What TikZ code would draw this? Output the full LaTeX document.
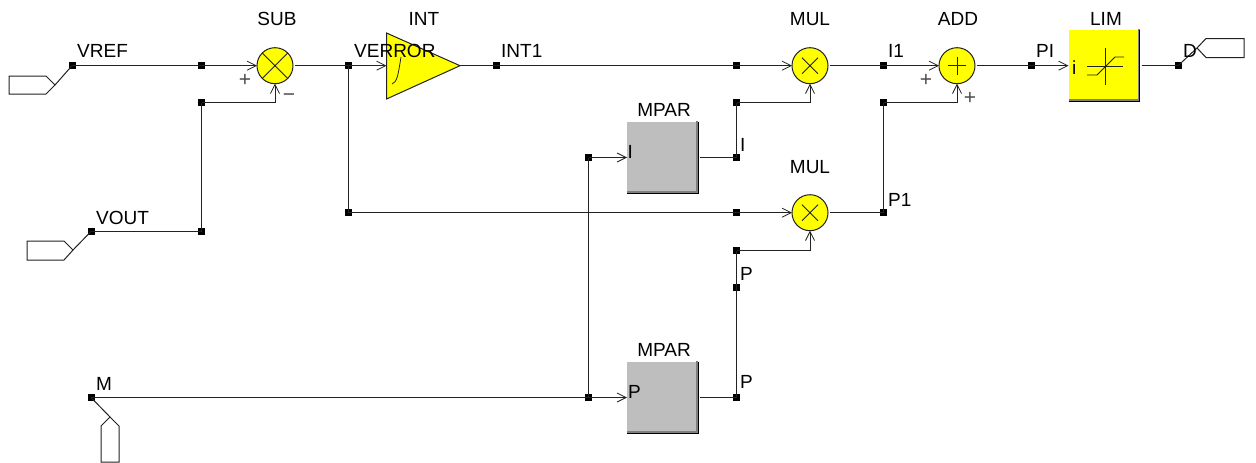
\documentclass[tikz,border=0pt]{standalone}
\usepackage{fontspec}
\setmainfont{Liberation Sans}
\usetikzlibrary{arrows.meta}
\definecolor{wire}{HTML}{222222}
\definecolor{blockyellow}{HTML}{FFFF00}
\definecolor{blockgray}{HTML}{BEBEBE}
\definecolor{edgegray}{HTML}{7F7F7F}
\tikzset{
  x=1pt,y=-1pt,
  wireline/.style={draw=wire,line width=1pt},
  feed/.style={wireline,-{Straight Barb[length=9pt,width=9pt,line width=0.8pt]}},
  junction/.style={fill=black,draw=none,minimum size=7pt,inner sep=0pt,outer sep=0pt,rectangle},
  sumblock/.style={circle,draw=wire,line width=1pt,fill=blockyellow,minimum size=36pt,inner sep=0pt,outer sep=0pt},
  boxblock/.style={rectangle,draw=none,minimum size=71pt,inner sep=0pt,outer sep=0pt},
  portshape/.style={draw=wire,line width=1pt,fill=white,line join=miter},
  lbl/.style={font=\fontsize{19}{21}\selectfont,text=black,inner sep=0pt,anchor=base west},
  title/.style={font=\fontsize{19}{21}\selectfont,text=black,inner sep=0pt,anchor=base},
  sign/.style={font=\fontsize{21}{22}\selectfont,text=black!70,inner sep=0pt,anchor=center},
  glyph/.style={draw=wire,line width=0.8pt},
}
\newcommand{\bevel}[1]{%
  \draw[edgegray,line width=2pt] ([xshift=-1pt,yshift=1pt]#1.north east) -- ([xshift=-1pt]#1.south east);
  \draw[edgegray,line width=2pt] ([yshift=1pt]#1.south west) -- ([yshift=1pt]#1.south east);
  \draw[black,line width=1pt] (#1.south west) -- (#1.south east) -- (#1.north east);
}
\begin{document}
\begin{tikzpicture}
\useasboundingbox (0,0) rectangle (1256,463);
% blocks
\node[sumblock] (sub) at (275,65.7) {};
\node[sumblock] (mula) at (810,65.7) {};
\node[sumblock] (mulb) at (810,212.7) {};
\node[sumblock] (add) at (957,65.7) {};
\draw[glyph] (sub.45) -- (sub.225) (sub.135) -- (sub.315);
\draw[glyph] (802,57.7) -- (818,73.7) (802,73.7) -- (818,57.7);
\draw[glyph] (802,204.7) -- (818,220.7) (802,220.7) -- (818,204.7);
\draw[glyph] (948,65.7) -- (966,65.7) (957,56.7) -- (957,74.7);
\coordinate (intin) at (386.5,65.7);
\coordinate (intout) at (460,65.7);
\draw[wire,line width=1pt,fill=blockyellow,line join=miter] (386.5,33) -- (intout) -- (386.5,99) -- cycle;
\draw[glyph] (392,84) .. controls (397,82) and (398,76) .. (401,57);
\node[boxblock,fill=blockgray] (mpari) at (662.5,157.5) {};
\node[boxblock,fill=blockgray] (mparp) at (662.5,397.5) {};
\node[boxblock,fill=blockyellow] (lim) at (1104,65.7) {};
\bevel{mpari}
\bevel{mparp}
\bevel{lim}
\draw[glyph] (1105,48) -- (1105,85) (1087,66) -- (1123,66);
\draw[glyph] (1087,75) -- (1097,75) -- (1115,57) -- (1124,57);
% junctions
\node[junction] (jvref) at (72,65.7) {};
\node[junction] (ja) at (201.5,65.7) {};
\node[junction] (jb) at (201.5,102.5) {};
\node[junction] (jvout) at (91,231.5) {};
\node[junction] (jc) at (201.5,231.5) {};
\node[junction] (jm) at (91,397.5) {};
\node[junction] (jerr) at (348.5,65.7) {};
\node[junction] (jerrb) at (348.5,212.7) {};
\node[junction] (jint) at (496,65.7) {};
\node[junction] (jd) at (736.5,65.7) {};
\node[junction] (je) at (736.5,102.5) {};
\node[junction] (jf) at (736.5,157.5) {};
\node[junction] (jg) at (736.5,212.7) {};
\node[junction] (jh) at (736.5,250.5) {};
\node[junction] (ji) at (736.5,287) {};
\node[junction] (jj) at (736.5,397.5) {};
\node[junction] (jk) at (588.5,157.5) {};
\node[junction] (jl) at (588.5,397.5) {};
\node[junction] (jn) at (883.5,65.7) {};
\node[junction] (jo) at (883.5,102.5) {};
\node[junction] (jp) at (883.5,212.7) {};
\node[junction] (jpi) at (1031,65.7) {};
\node[junction] (jdo) at (1178,65.7) {};
% connectors
\draw[wireline] (jvref.center) -- (ja.center);
\draw[feed] (ja.center) -- (sub.west);
\draw[wireline] (jvout.center) -- (jc.center) -- (jb.center);
\draw[feed] (jb.center) -| (sub.south);
\draw[wireline,shorten <=1.5pt] (sub.east) -- (jerr.center);
\draw[feed] (jerr.center) -- (intin);
\draw[wireline] (jerr.center) -- (jerrb.center);
\draw[wireline] (jerrb.center) -- (jg.center);
\draw[feed] (jg.center) -- (mulb.west);
\draw[wireline] (intout) -- (jint.center) -- (jd.center);
\draw[feed] (jd.center) -- (mula.west);
\draw[wireline] (jm.center) -- (jl.center);
\draw[wireline] (jl.center) -- (jk.center);
\draw[feed] (jk.center) -- (mpari.west);
\draw[feed] (jl.center) -- (mparp.west);
\draw[wireline,shorten <=2pt] (mpari.east) -- (jf.center);
\draw[wireline] (jf.center) -- (je.center);
\draw[feed] (je.center) -| (mula.south);
\draw[wireline,shorten <=2pt] (mparp.east) -- (jj.center);
\draw[wireline] (jj.center) -- (ji.center) -- (jh.center);
\draw[feed] (jh.center) -| (mulb.south);
\draw[wireline,shorten <=1.5pt] (mula.east) -- (jn.center);
\draw[feed] (jn.center) -- (add.west);
\draw[wireline,shorten <=1.5pt] (mulb.east) -- (jp.center);
\draw[wireline] (jp.center) -- (jo.center);
\draw[feed] (jo.center) -| (add.south);
\draw[wireline,shorten <=1.5pt] (add.east) -- (jpi.center);
\draw[feed] (jpi.center) -- (lim.west);
\draw[wireline,shorten <=2pt] (lim.east) -- (jdo.center);
% ports
\coordinate (pvref) at (55,85);
\coordinate (pvout) at (73,250);
\coordinate (pm) at (110,417);
\coordinate (pd) at (1197,48);
\draw[portshape] (9,76) -- (46,76) -- (pvref) -- (46,94) -- (9,94) -- cycle;
\draw[portshape] (27,241) -- (64,241) -- (pvout) -- (64,260) -- (27,260) -- cycle;
\draw[portshape] (pm) -- (119,426) -- (119,462) -- (101,462) -- (101,426) -- cycle;
\draw[portshape] (pd) -- (1206,38.5) -- (1244,38.5) -- (1244,57.5) -- (1206,57.5) -- cycle;
\draw[wireline] (jvref.center) -- (pvref);
\draw[wireline] (jvout.center) -- (pvout);
\draw[wireline] (jm.center) -- (pm);
\draw[wireline] (jdo.center) -- (pd);
% titles
\node[title] (tsub) at (277,25) {SUB};
\node[title] (tint) at (424,25) {INT};
\node[title] (tmula) at (810,25) {MUL};
\node[title] (tadd) at (958,25) {ADD};
\node[title] (tlim) at (1106,25) {LIM};
\node[title] (tmpari) at (664,116) {MPAR};
\node[title] (tmulb) at (810,173) {MUL};
\node[title] (tmparp) at (664,356) {MPAR};
% labels
\node[lbl] (lvref) at (77,57) {VREF};
\node[lbl] (lvout) at (96,224) {VOUT};
\node[lbl] (lm) at (96,390) {M};
\node[lbl] (lerr) at (354,57) {VERROR};
\node[lbl] (lint) at (501,57) {INT1};
\node[lbl] (li1) at (888,57) {I1};
\node[lbl] (lpi) at (1036,57) {PI};
\node[lbl] (ld) at (1183,57) {D};
\node[lbl] (li) at (740,151) {I};
\node[lbl] (lp) at (740,280) {P};
\node[lbl] (lpb) at (740,388) {P};
\node[lbl] (lpone) at (888,206) {P1};
\node[lbl] (pini) at (627.5,158) {I};
\node[lbl] (pinp) at (628,398) {P};
\node[lbl] (pinl) at (1072,74) {i};
% signs
\node[sign] (sa) at (245,80) {+};
\node[sign] (sb) at (289,98) {\char"2212};
\node[sign] (sc) at (926,80) {+};
\node[sign] (sd) at (970,98) {+};
\end{tikzpicture}
\end{document}
